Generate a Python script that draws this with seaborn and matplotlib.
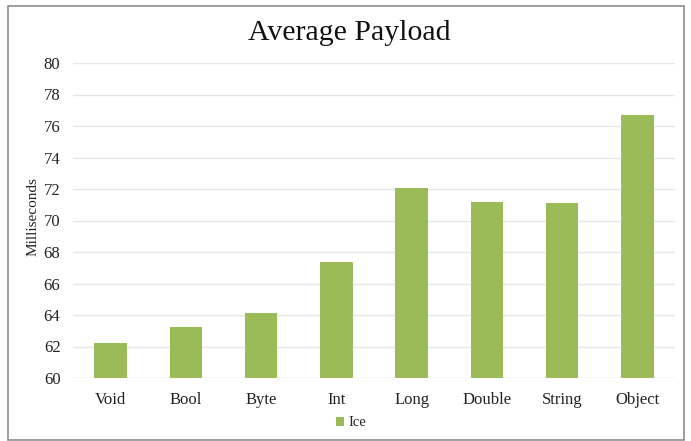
import matplotlib
matplotlib.use("Agg")
import matplotlib.pyplot as plt
import seaborn as sns
import pandas as pd
from matplotlib.patches import Rectangle

categories = ["Void", "Bool", "Byte", "Int", "Long", "Double", "String", "Object"]
ice_ms = [62.24, 63.26, 64.13, 67.37, 72.04, 71.15, 71.11, 76.68]
y_ticks = [60, 62, 64, 66, 68, 70, 72, 74, 76, 78, 80]

df = pd.DataFrame({"Type": categories, "Milliseconds": ice_ms, "Series": "Ice"})

sns.set_theme(style="white")
plt.rcParams["font.family"] = ["Liberation Serif", "DejaVu Serif"]

green = "#9BBB59"

fig = plt.figure(figsize=(6.91, 4.41), dpi=100)
ax = fig.add_axes([73 / 691, 1 - 378 / 441, 602 / 691, 315 / 441])

sns.barplot(data=df, x="Type", y="Milliseconds", hue="Series",
            palette=[green], saturation=1, width=0.43, ax=ax, legend=False)
# bars rise from the axis floor at 60 ms
for p in ax.patches:
    top = p.get_y() + p.get_height()
    p.set_y(60)
    p.set_height(top - 60)
    p.set_edgecolor("none")

ax.set_ylim(60, 80)
ax.set_xlim(-0.5, len(categories) - 0.5)
ax.set_yticks(y_ticks)
ax.set_yticklabels([str(t) for t in y_ticks], fontsize=12, color="#222222")
ax.tick_params(axis="x", labelsize=12, colors="#222222", length=0, pad=10)
ax.tick_params(axis="y", length=0, pad=9)
ax.grid(axis="y", color="#E6E6E6", linewidth=1.0)
ax.set_axisbelow(True)
for s in ax.spines.values():
    s.set_visible(False)
ax.axhline(60, color="#E6E6E6", linewidth=1.0, zorder=0)

ax.set_xlabel("")
ax.set_ylabel("Milliseconds", fontsize=11, color="#222222")
ax.yaxis.set_label_coords(-0.056, 0.513)

fig.text(349 / 691, 1 - 33 / 441, "Average Payload", fontsize=21.5,
         color="#111111", ha="center", va="center")

# Legend entry centred under the axis
handle = Rectangle((0, 0), 1, 1, facecolor=green, edgecolor="none")
fig.legend([handle], ["Ice"], loc="center", bbox_to_anchor=(351 / 691, 1 - 423 / 441),
           frameon=False, fontsize=10.5, handlelength=0.6, handleheight=0.6,
           handletextpad=0.3)

# Outer chart frame
fig.patches.append(Rectangle((8 / 691, 1 - 440 / 441), 676 / 691, 434 / 441,
                             transform=fig.transFigure, fill=False,
                             edgecolor="#8C8C8C", linewidth=1.2))

fig.savefig("out.png", dpi=100, facecolor="white")
